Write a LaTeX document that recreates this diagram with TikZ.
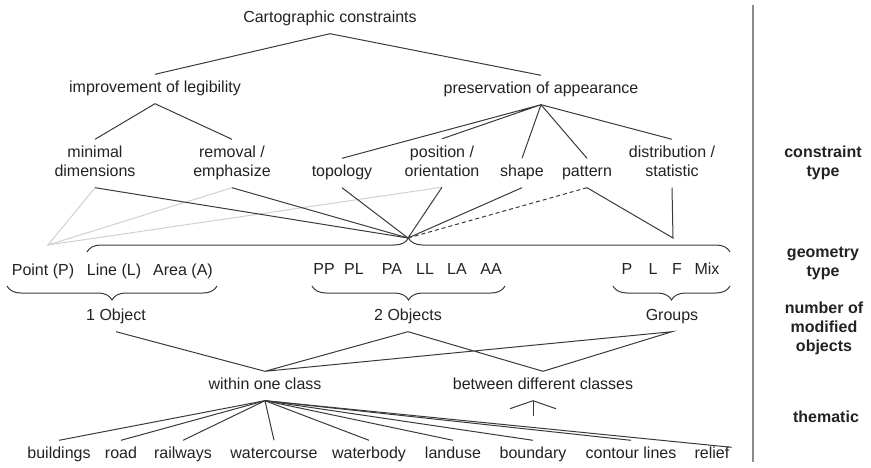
\documentclass[tikz,border=0pt]{standalone}
\usepackage{fontspec}
\setmainfont{Liberation Sans}
\usetikzlibrary{decorations.pathreplacing,calc}
\definecolor{ink}{HTML}{222222}
\definecolor{edge}{HTML}{3A3A3A}
\definecolor{faint}{HTML}{D0D0D0}
\definecolor{sepc}{HTML}{8C8C8C}
\newcommand{\lbfont}{\fontsize{16pt}{19pt}\selectfont}
\begin{document}
\begin{tikzpicture}[x=1pt,y=-1pt,
  lbl/.style={font=\lbfont, text=ink, align=center, inner xsep=2pt, inner ysep=5pt},
  hd/.style={font=\lbfont\bfseries, text=ink, align=center},
  con/.style={draw=edge, line width=1pt},
  pale/.style={draw=faint, line width=1pt},
  dsh/.style={draw=edge, line width=1pt, dash pattern=on 4pt off 3pt},
  brc/.style={draw=edge, line width=1pt, decorate, decoration={brace, amplitude=14pt}},
]
\useasboundingbox (0,0) rectangle (871,468);

% level 0-2
\node[lbl] (cc)   at (330,19)  {\strut Cartographic constraints};
\node[lbl] (imp)  at (155,89)  {\strut improvement of legibility};
\node[lbl] (pres) at (541,90)  {\strut preservation of appearance};
\node[lbl] (mind) at (95,163.5)  {\strut minimal\\\strut dimensions};
\node[lbl] (remo) at (232,163.5) {\strut removal /\\\strut emphasize};
\node[lbl] (topo) at (342,173)   {\strut topology};
\node[lbl] (posi) at (442,163)   {\strut position /\\\strut orientation};
\node[lbl] (shap) at (522,173)   {\strut shape};
\node[lbl] (patt) at (587,173)   {\strut pattern};
\node[lbl] (dist) at (672,163.5) {\strut distribution /\\\strut statistic};

\coordinate (hub)  at (408,238);
\coordinate (ptL)  at (48,245);
\coordinate (dhub) at (673,238);

% geometry types
\node[lbl] (gP)  at (43,272)  {\strut Point (P)};
\node[lbl] (gL)  at (114,272) {\strut Line (L)};
\node[lbl] (gA)  at (183,272) {\strut Area (A)};
\node[lbl] (gPP) at (324,271) {\strut PP};
\node[lbl] (gPL) at (354,271) {\strut PL};
\node[lbl] (gPA) at (392,271) {\strut PA};
\node[lbl] (gLL) at (425,271) {\strut LL};
\node[lbl] (gLA) at (457,271) {\strut LA};
\node[lbl] (gAA) at (491,271) {\strut AA};
\node[lbl] (sP)  at (627,271) {\strut P};
\node[lbl] (sL)  at (653,271) {\strut L};
\node[lbl] (sF)  at (677,271) {\strut F};
\node[lbl] (sMx) at (707,271) {\strut Mix};

% number of objects
\node[lbl] (ob1) at (116,317) {\strut 1 Object};
\node[lbl] (ob2) at (408,317) {\strut 2 Objects};
\node[lbl] (grp) at (672,317) {\strut Groups};

% thematic
\node[lbl] (win) at (265,386) {\strut within one class};
\node[lbl] (btw) at (543,386) {\strut between different classes};

\node[lbl] (bld) at (59,455)  {\strut buildings};
\node[lbl] (rod) at (121,455) {\strut road};
\node[lbl] (rlw) at (183,455) {\strut railways};
\node[lbl] (wco) at (274,455) {\strut watercourse};
\node[lbl] (wbd) at (369,455) {\strut waterbody};
\node[lbl] (lnd) at (453,455) {\strut landuse};
\node[lbl] (bnd) at (533,455) {\strut boundary};
\node[lbl] (ctr) at (631,455) {\strut contour lines};
\node[lbl] (rel) at (712,455) {\strut relief};

% right column
\draw[draw=sepc, line width=1.3pt] (753,5) -- (753,462);
\node[hd] (h1) at (823,162.5) {constraint\\type};
\node[hd] (h2) at (823,263)   {geometry\\type};
\node[hd] (h3) at (824,328)   {number of\\modified\\objects};
\node[hd] (h4) at (826,417)   {thematic};

% tree connectors
\draw[con] (imp.north) -- (cc.south) -- (pres.north);
\draw[con] (mind.north) -- (imp.south) -- (remo.north);
\draw[con] (topo.north) -- (pres.south) -- (posi.north);
\draw[con] (shap.north) -- (pres.south) -- (patt.north);
\draw[con] (pres.south) -- (dist.north);

% pale lines from Point
\draw[pale] (mind.south) -- (ptL) -- (remo.south);
\draw[pale] (ptL) -- (posi.south);

% to hub
\draw[con] (mind.south) -- (hub);
\draw[con] (remo.south) -- (hub);
\draw[con] (topo.south) -- (hub);
\draw[con] (posi.south) -- (hub);
\draw[con] (shap.south) -- (hub);
\draw[dsh] (patt.south) -- (hub);
\draw[con] (patt.south) -- (dhub) -- (dist.south);

% braces
\draw[brc] (87,252) -- (730,252);
\draw[brc] (217,286) -- (7,286);
\draw[brc] (505,286) -- (312,286);
\draw[brc] (730,286) -- (613,286);

% objects to classes
\draw[con] (ob1.south) -- (win.north) -- (ob2.south) -- (btw.north) -- (grp.south) -- (win.north);

% arrow below between
\coordinate (tip) at ($(btw.south)+(-10,0)$);
\draw[con] ($(tip)+(-23,8)$) -- (tip) -- ($(tip)+(23,8)$);
\draw[con] (tip) -- ($(tip)+(0,15)$);

% within to themes
\foreach \t in {bld,rod,rlw,wco,wbd,lnd,bnd,ctr}
  \draw[con] (win.south) -- (\t.north);
\draw[con] (win.south) -- ([yshift=-7pt]rel.north east);
\end{tikzpicture}
\end{document}
